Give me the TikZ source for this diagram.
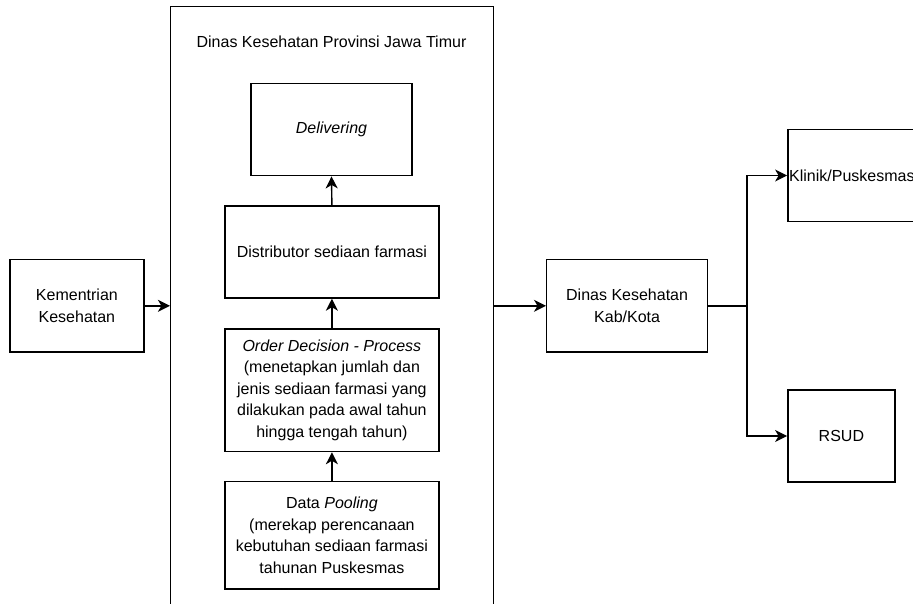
\documentclass[tikz,border=0pt]{standalone}
\usepackage{fontspec}
\setmainfont{Liberation Sans}
\usetikzlibrary{arrows.meta}
\begin{document}
\begin{tikzpicture}[x=1pt,y=-1pt,
  box/.style={draw,line width=1.4pt,align=center,inner sep=2pt,
    font=\fontsize{16}{21.6}\selectfont},
  arr/.style={line width=1.4pt,-{Stealth[length=12pt,width=12pt,inset=3.5pt]}},
  lbl/.style={align=center,font=\fontsize{16}{21.6}\selectfont}]
\clip (0,0) rectangle (913,603);
\fill[white] (0,0) rectangle (913,603);
% outer province box
\node[box,minimum width=322.6pt,minimum height=640pt] (prov) at (331.9,326.5) {};
\node[lbl] (title) at (331.5,41.5) {Dinas Kesehatan Provinsi Jawa Timur};
% inner boxes
\node[box,minimum width=161pt,minimum height=92.2pt] (deliv) at (331.5,129.6) {\textit{Delivering}};
\node[box,minimum width=214.2pt,minimum height=92pt] (dist) at (331.9,252) {Distributor sediaan farmasi};
\node[box,minimum width=214.2pt,minimum height=122.7pt] (order) at (331.9,390.2)
  {\textit{Order Decision - Process}\\(menetapkan jumlah dan\\jenis sediaan farmasi yang\\dilakukan pada awal tahun\\hingga tengah tahun)};
\node[box,minimum width=214.2pt,minimum height=107.5pt] (pool) at (331.9,535.2)
  {Data \textit{Pooling}\\(merekap perencanaan\\kebutuhan sediaan farmasi\\tahunan Puskesmas};
% outside boxes
\node[box,minimum width=134pt,minimum height=92.3pt] (kem) at (76.9,305.8) {Kementrian\\Kesehatan};
\node[box,minimum width=160.8pt,minimum height=92.3pt] (kab) at (627.1,305.8) {Dinas Kesehatan\\Kab/Kota};
\node[box,minimum width=129.2pt,minimum height=92.5pt] (klinik) at (852.4,175.5) {};
\node[lbl,anchor=west,inner sep=0pt] (kliniktext) at (789,175.5) {Klinik/Puskesmas};
\node[box,minimum width=107.2pt,minimum height=92pt] (rsud) at (841.4,436) {RSUD};
\coordinate (br) at (747,305.8);
% connectors
\draw[arr] (kem.east) -- (kem.east -| prov.west);
\draw[arr] (kab.west -| prov.east) -- (kab.west);
\draw[arr] (pool.north) -- (order.south);
\draw[arr] (order.north) -- (dist.south);
\draw[arr] (dist.north) -- (deliv.south);
\draw[line width=1.4pt] (kab.east) -- (br);
\draw[arr] (br) |- (klinik.west);
\draw[arr] (br) |- (rsud.west);
\end{tikzpicture}
\end{document}
